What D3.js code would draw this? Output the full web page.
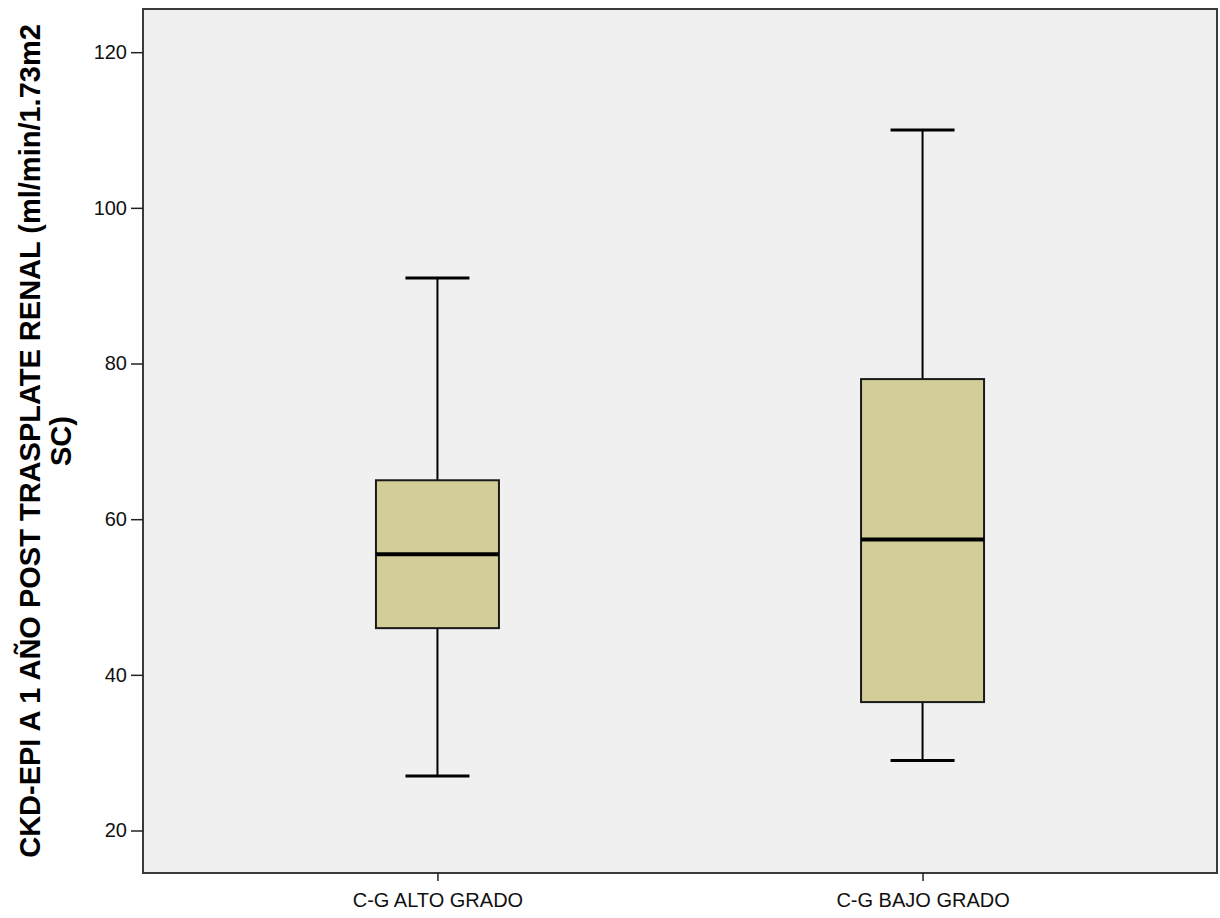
<!DOCTYPE html>
<html>
<head>
<meta charset="utf-8">
<script src="https://cdn.jsdelivr.net/npm/d3@7"></script>
<style>
  body { margin: 0; background: #fff; }
  svg { display: block; font-family: Arial, "Liberation Sans", sans-serif; }
</style>
</head>
<body>
<svg id="chart" width="1220" height="918"></svg>
<script>
// CKD-EPI boxplot -- two groups

var groups = ["C-G ALTO GRADO", "C-G BAJO GRADO"];
var whiskerLow = [27, 29];
var q1 = [46, 36.5];
var median = [55.5, 57.4];
var q3 = [65, 78];
var whiskerHigh = [91, 110];
var yTicks = [20, 40, 60, 80, 100, 120];

var yTitle = ["CKD-EPI A 1 AÑO POST TRASPLATE RENAL (ml/min/1.73m2", "SC)"];

var frame = { left: 143, top: 9, right: 1217, bottom: 873 };

var svg = d3.select("#chart");

var x = d3.scalePoint()
  .domain(groups)
  .range([frame.left, frame.right])
  .padding(0.607);

var y = d3.scaleLinear()
  .domain([14.54, 125.55])
  .range([frame.bottom, frame.top]);

// plot background
svg.append("rect")
  .attr("x", frame.left)
  .attr("y", frame.top)
  .attr("width", frame.right - frame.left)
  .attr("height", frame.bottom - frame.top)
  .attr("fill", "#f0f0f0")
  .attr("stroke", "#3a3a3a")
  .attr("stroke-width", 2);

var boxW = 123, capW = 64;

var rows = groups.map(function (g, i) {
  return { name: g, lo: whiskerLow[i], q1: q1[i], med: median[i], q3: q3[i], hi: whiskerHigh[i] };
});

var box = svg.append("g").selectAll("g")
  .data(rows)
  .join("g");

// whiskers
box.append("line")
  .attr("x1", function (d) { return x(d.name); })
  .attr("x2", function (d) { return x(d.name); })
  .attr("y1", function (d) { return y(d.hi); })
  .attr("y2", function (d) { return y(d.q3); })
  .attr("stroke", "#000").attr("stroke-width", 2);

box.append("line")
  .attr("x1", function (d) { return x(d.name); })
  .attr("x2", function (d) { return x(d.name); })
  .attr("y1", function (d) { return y(d.q1); })
  .attr("y2", function (d) { return y(d.lo); })
  .attr("stroke", "#000").attr("stroke-width", 2);

["hi", "lo"].forEach(function (k) {
  box.append("line")
    .attr("x1", function (d) { return x(d.name) - capW / 2; })
    .attr("x2", function (d) { return x(d.name) + capW / 2; })
    .attr("y1", function (d) { return y(d[k]); })
    .attr("y2", function (d) { return y(d[k]); })
    .attr("stroke", "#000").attr("stroke-width", 3);
});

box.append("rect")
  .attr("x", function (d) { return x(d.name) - boxW / 2; })
  .attr("y", function (d) { return y(d.q3); })
  .attr("width", boxW)
  .attr("height", function (d) { return y(d.q1) - y(d.q3); })
  .attr("fill", "#d3ce97")
  .attr("stroke", "#1a1a1a")
  .attr("stroke-width", 2);

box.append("line")
  .attr("x1", function (d) { return x(d.name) - boxW / 2; })
  .attr("x2", function (d) { return x(d.name) + boxW / 2; })
  .attr("y1", function (d) { return y(d.med); })
  .attr("y2", function (d) { return y(d.med); })
  .attr("stroke", "#000").attr("stroke-width", 4);

// axes
var yAxis = svg.append("g")
  .attr("transform", "translate(" + frame.left + ",0)")
  .call(d3.axisLeft(y).tickValues(yTicks).tickSize(12).tickPadding(4));
yAxis.select(".domain").remove();
yAxis.selectAll("line").attr("stroke", "#222").attr("stroke-width", 1.5);
yAxis.selectAll("text").attr("font-size", 20).attr("fill", "#111")
  .attr("font-family", "Arial, 'Liberation Sans', sans-serif");

var xAxis = svg.append("g")
  .attr("transform", "translate(0," + frame.bottom + ")")
  .call(d3.axisBottom(x).tickSize(8).tickPadding(12));
xAxis.select(".domain").remove();
xAxis.selectAll("line").attr("stroke", "#222").attr("stroke-width", 1.5);
xAxis.selectAll("text").attr("font-size", 20).attr("fill", "#111")
  .attr("font-family", "Arial, 'Liberation Sans', sans-serif");

// y title, two lines
var midY = (frame.top + frame.bottom) / 2;
svg.append("g")
  .attr("transform", "translate(30," + midY + ") rotate(-90)")
  .selectAll("text")
  .data(yTitle)
  .join("text")
  .attr("x", 0)
  .attr("y", function (d, i) { return i * 31; })
  .attr("dy", "0.36em")
  .attr("text-anchor", "middle")
  .attr("font-size", 29)
  .attr("font-weight", "bold")
  .attr("fill", "#000")
  .text(function (d) { return d; });
</script>
</body>
</html>
